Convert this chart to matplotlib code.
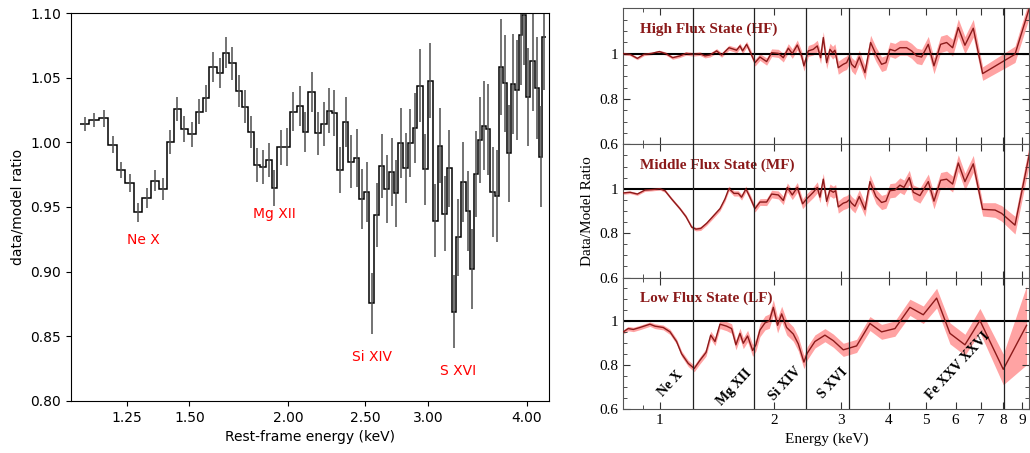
import matplotlib.pyplot as plt
import numpy as np
from matplotlib.ticker import NullLocator, MultipleLocator, FixedLocator, NullFormatter

# ---- left panel: binned data/model ratio ----
bin_edges = [1.0914, 1.1213, 1.1543, 1.1849, 1.2142, 1.2438, 1.2768, 1.3079, 1.3403, 1.3730,
             1.4041, 1.4342, 1.4624, 1.4950, 1.5275, 1.5589, 1.5891, 1.6236, 1.6522, 1.6841,
             1.7158, 1.7459, 1.7797, 1.8095, 1.8413, 1.8737, 1.9049, 1.9363, 1.9743, 2.0090,
             2.0485, 2.0846, 2.1187, 2.1603, 2.1965, 2.2351, 2.2678, 2.3050, 2.3456, 2.3798,
             2.4196, 2.4572, 2.4931, 2.5296, 2.5666, 2.6042, 2.6423, 2.6810, 2.7178, 2.7520,
             2.7923, 2.8331, 2.8696, 2.9083, 2.9542, 2.9974, 3.0413, 3.0859, 3.1274, 3.1731,
             3.2139, 3.2544, 3.2992, 3.3474, 3.3895, 3.4321, 3.4722, 3.5128, 3.5579, 3.5996,
             3.6448, 3.6875, 3.7338, 3.7774, 3.8216, 3.8629, 3.9081, 3.9503, 3.9965, 4.0432,
             4.0940, 4.1420, 4.1867, 4.2356]
ratio = [1.0142, 1.0173, 1.0185, 0.9982, 0.9786, 0.9688, 0.9459, 0.9567, 0.9704, 0.9639,
         1.0000, 1.0260, 1.0103, 1.0064, 1.0237, 1.0340, 1.0585, 1.0539, 1.0693, 1.0611,
         1.0397, 1.0276, 1.0082, 0.9825, 0.9812, 0.9863, 0.9644, 0.9961, 0.9961, 1.0237,
         1.0283, 1.0080, 1.0386, 1.0070, 1.0139, 1.0245, 1.0224, 0.9786, 1.0160, 0.9850,
         0.9876, 0.9559, 0.9619, 0.8755, 0.9438, 0.9817, 0.9637, 0.9773,
         0.9606, 0.9992, 0.9799, 0.9997, 1.0108, 1.0438, 0.9791, 1.0477, 0.9394, 0.9972,
         0.9446, 0.9799, 0.8691, 0.9266, 0.9696, 0.9472, 0.9021, 0.9755, 1.0018, 1.0129,
         1.0100, 0.9619, 0.9585, 1.0580, 1.0456, 0.9915, 1.0451, 1.0405, 1.0830, 1.0984,
         1.0348, 1.0631, 1.0417, 0.9889, 1.0817]
ratio_err = [0.0054, 0.0054, 0.0064, 0.0064, 0.0064, 0.0071, 0.0075, 0.0077, 0.0081, 0.0084,
             0.0093, 0.0093, 0.0097, 0.0097, 0.0099, 0.0103, 0.0116, 0.0116, 0.0122, 0.0126,
             0.0125, 0.0126, 0.0125, 0.0129, 0.0131, 0.0131, 0.0139, 0.0138, 0.0146, 0.0151,
             0.0155, 0.0158, 0.0155, 0.0168, 0.0170, 0.0174, 0.0178, 0.0180, 0.0193, 0.0206,
             0.0224, 0.0232, 0.0232, 0.0235, 0.0245, 0.0251, 0.0262, 0.0264,
             0.0260, 0.0271, 0.0271, 0.0264, 0.0271, 0.0280, 0.0277, 0.0292, 0.0283, 0.0290,
             0.0290, 0.0299, 0.0283, 0.0296, 0.0309, 0.0309, 0.0309, 0.0329, 0.0335, 0.0344,
             0.0352, 0.0348, 0.0352, 0.0370, 0.0374, 0.0374, 0.0384, 0.0387, 0.0387, 0.0387,
             0.0380, 0.0387, 0.0394, 0.0389, 0.0412]
left_names = ['Ne X', 'Mg XII', 'Si XIV', 'S XVI']
left_name_x = [1.311, 1.918, 2.550, 3.278]
left_name_y = [0.9245, 0.9444, 0.8343, 0.8234]

# ---- right panels: ratio curves for the three flux states ----
hf_e = [0.801, 0.834, 0.872, 0.908, 0.951, 0.996, 1.037, 1.080, 1.129, 1.171,
        1.224, 1.274, 1.314, 1.354, 1.410, 1.453, 1.519, 1.566, 1.591, 1.624,
        1.650, 1.691, 1.732, 1.779, 1.833, 1.909, 1.968, 2.049, 2.112, 2.177,
        2.230, 2.299, 2.360, 2.393, 2.457, 2.533, 2.595, 2.648, 2.691, 2.746,
        2.802, 2.848, 2.888, 2.947, 3.038, 3.100, 3.150, 3.195, 3.260, 3.347,
        3.464, 3.585, 3.703, 3.832, 3.934, 4.031, 4.155, 4.282, 4.459, 4.596,
        4.738, 4.883, 5.085, 5.263, 5.480, 5.683, 5.893, 6.099, 6.350, 6.679,
        7.070, 8.600, 9.420]
hf_r = [1.000, 0.997, 0.979, 0.997, 1.001, 1.009, 1.000, 0.982, 0.990, 1.001,
        0.997, 1.000, 0.990, 0.994, 1.012, 0.994, 1.026, 1.019, 1.015, 1.034,
        1.012, 1.041, 1.004, 0.960, 0.985, 0.965, 1.004, 1.001, 0.982, 1.024,
        1.000, 1.038, 0.990, 0.946, 1.012, 1.019, 1.034, 0.982, 1.071, 0.960,
        1.019, 1.004, 1.015, 0.938, 0.953, 0.960, 0.985, 0.953, 0.938, 0.985,
        0.916, 1.049, 0.997, 0.953, 0.960, 1.019, 1.012, 1.026, 1.026, 1.012,
        0.990, 0.985, 1.041, 0.946, 1.041, 1.049, 1.026, 1.115, 1.037, 1.112,
        0.912, 0.997, 1.210]
hf_err = [0.006, 0.006, 0.006, 0.006, 0.006, 0.006, 0.007, 0.007, 0.007, 0.008,
          0.008, 0.008, 0.009, 0.009, 0.010, 0.010, 0.011, 0.011, 0.012, 0.012,
          0.013, 0.013, 0.014, 0.015, 0.015, 0.016, 0.017, 0.018, 0.019, 0.020,
          0.021, 0.022, 0.022, 0.023, 0.024, 0.025, 0.025, 0.026, 0.026, 0.027,
          0.027, 0.028, 0.028, 0.029, 0.029, 0.030, 0.030, 0.030, 0.031, 0.031,
          0.031, 0.032, 0.032, 0.032, 0.032, 0.032, 0.033, 0.033, 0.033, 0.033,
          0.034, 0.034, 0.035, 0.035, 0.036, 0.036, 0.037, 0.038, 0.038, 0.039,
          0.030, 0.036, 0.040]

mf_e = [0.801, 0.834, 0.872, 0.913, 0.951, 1.000, 1.031, 1.073, 1.129, 1.171,
        1.212, 1.244, 1.280, 1.327, 1.382, 1.439, 1.483, 1.519, 1.566, 1.608,
        1.640, 1.684, 1.725, 1.779, 1.833, 1.909, 1.968, 2.049, 2.112, 2.164,
        2.230, 2.299, 2.374, 2.433, 2.533, 2.595, 2.637, 2.691, 2.746, 2.802,
        2.859, 2.900, 2.947, 3.038, 3.100, 3.150, 3.195, 3.260, 3.347, 3.464,
        3.571, 3.703, 3.832, 3.934, 4.031, 4.155, 4.282, 4.388, 4.532, 4.643,
        4.834, 5.085, 5.263, 5.480, 5.683, 5.893, 6.099, 6.350, 6.679, 7.070,
        7.620, 7.930, 8.600, 9.420]
mf_r = [0.981, 0.984, 0.976, 0.994, 0.996, 1.000, 0.991, 0.954, 0.910, 0.874,
        0.827, 0.818, 0.821, 0.844, 0.877, 0.910, 0.954, 1.001, 0.979, 0.979,
        0.962, 0.999, 0.962, 0.910, 0.940, 0.940, 0.976, 0.972, 0.947, 1.006,
        0.972, 1.006, 0.932, 0.954, 0.984, 1.006, 0.962, 1.043, 0.943, 0.994,
        0.984, 0.991, 0.918, 0.935, 0.940, 0.950, 0.935, 0.921, 0.965, 0.906,
        1.032, 0.965, 0.938, 0.944, 0.991, 0.994, 1.016, 1.006, 1.050, 0.984,
        0.969, 1.032, 0.944, 1.038, 1.043, 1.021, 1.116, 1.032, 1.112, 0.907,
        0.904, 0.889, 0.836, 1.170]
mf_err = [0.006, 0.006, 0.006, 0.006, 0.006, 0.006, 0.007, 0.007, 0.007, 0.008,
          0.008, 0.008, 0.009, 0.009, 0.010, 0.010, 0.011, 0.011, 0.012, 0.012,
          0.013, 0.013, 0.014, 0.015, 0.015, 0.016, 0.017, 0.018, 0.019, 0.020,
          0.021, 0.022, 0.022, 0.023, 0.024, 0.025, 0.025, 0.026, 0.026, 0.027,
          0.027, 0.028, 0.028, 0.029, 0.029, 0.030, 0.030, 0.030, 0.031, 0.031,
          0.031, 0.032, 0.032, 0.032, 0.032, 0.032, 0.033, 0.033, 0.033, 0.033,
          0.034, 0.034, 0.035, 0.035, 0.036, 0.036, 0.037, 0.038, 0.038, 0.030,
          0.033, 0.035, 0.040, 0.045]

lf_e = [0.801, 0.825, 0.851, 0.886, 0.941, 0.970, 1.020, 1.063, 1.106, 1.140,
        1.187, 1.231, 1.274, 1.322, 1.360, 1.396, 1.439, 1.498, 1.544, 1.585,
        1.624, 1.657, 1.701, 1.754, 1.789, 1.833, 1.890, 1.940, 1.988, 2.040,
        2.091, 2.155, 2.244, 2.313, 2.393, 2.442, 2.558, 2.718, 2.859, 3.038,
        3.150, 3.293, 3.571, 3.832, 4.155, 4.550, 4.933, 5.349, 5.799, 6.350,
        6.954, 8.011, 9.227]
lf_r = [0.952, 0.967, 0.963, 0.972, 0.987, 0.978, 0.972, 0.952, 0.908, 0.852,
        0.808, 0.785, 0.822, 0.858, 0.937, 0.908, 0.987, 0.978, 0.967, 0.893,
        0.945, 0.900, 0.933, 0.867, 0.893, 0.960, 0.993, 1.001, 1.064, 0.982,
        1.034, 0.972, 0.942, 0.897, 0.814, 0.855, 0.908, 0.937, 0.912, 0.870,
        0.878, 0.888, 0.990, 0.952, 0.967, 1.064, 1.030, 1.106, 0.945, 0.893,
        1.004, 0.781, 0.982]
lf_err = [0.010, 0.010, 0.010, 0.010, 0.010, 0.011, 0.011, 0.012, 0.012, 0.013,
          0.014, 0.015, 0.016, 0.017, 0.018, 0.019, 0.020, 0.021, 0.022, 0.023,
          0.024, 0.025, 0.026, 0.027, 0.028, 0.030, 0.032, 0.033, 0.035, 0.035,
          0.035, 0.034, 0.033, 0.032, 0.030, 0.030, 0.030, 0.030, 0.030, 0.030,
          0.030, 0.030, 0.032, 0.034, 0.035, 0.037, 0.040, 0.045, 0.048, 0.048,
          0.055, 0.070, 0.180]

state_titles = ['High Flux State (HF)', 'Middle Flux State (MF)', 'Low Flux State (LF)']
line_energies = [1.224, 1.771, 2.423, 3.150, 8.058]
line_names = ['Ne X', 'Mg XII', 'Si XIV', 'S XVI', 'Fe XXV XXVI']
line_label_x = [1.069, 1.566, 2.133, 2.845, 6.087]
line_label_y = [0.714, 0.700, 0.714, 0.716, 0.796]

SERIF = 'Liberation Serif'
DARKRED = '#8b1a1a'

fig = plt.figure(figsize=(10.3, 4.53), dpi=100)

# left panel
ax = fig.add_axes([0.0689, 0.1148, 0.4641, 0.8565])
edges = np.array(bin_edges)
centers = 0.5 * (edges[:-1] + edges[1:])
ax.stairs(ratio, edges, baseline=None, color='k', lw=1.1)
ax.errorbar(centers, ratio, yerr=ratio_err, fmt='none', ecolor='0.3', elinewidth=1.1)
ax.set_xscale('log')
ax.set_xlim(1.063, 4.267)
ax.set_ylim(0.80, 1.10)
ax.set_xticks([1.25, 1.5, 2.0, 2.5, 3.0, 4.0])
ax.set_xticklabels(['1.25', '1.50', '2.00', '2.50', '3.00', '4.00'])
ax.xaxis.set_minor_locator(NullLocator())
ax.set_yticks(np.arange(0.80, 1.101, 0.05))
ax.set_yticklabels([f'{v:.2f}' for v in np.arange(0.80, 1.101, 0.05)])
ax.tick_params(labelsize=10)
ax.set_xlabel('Rest-frame energy (keV)', fontsize=10)
ax.set_ylabel('data/model ratio', fontsize=10)
for name, x, y in zip(left_names, left_name_x, left_name_y):
    ax.text(x, y, name, color='red', fontsize=10, ha='center', va='center')

# right panels
boxes = [[0.6051, 0.6815, 0.3944, 0.3002],
         [0.6051, 0.3874, 0.3944, 0.2940],
         [0.6051, 0.0971, 0.3944, 0.2903]]
curves = [(hf_e, hf_r, hf_err), (mf_e, mf_r, mf_err), (lf_e, lf_r, lf_err)]
axes_r = []
for i, (box, (e, r, err), title) in enumerate(zip(boxes, curves, state_titles)):
    a = fig.add_axes(box)
    e = np.array(e)
    r = np.array(r)
    err = np.array(err)
    a.fill_between(e, r - err, r + err, color='#ffa3a3', lw=0, zorder=1)
    a.plot(e, r, color=DARKRED, lw=1.0, zorder=3)
    a.axhline(1.0, color='k', lw=1.5, zorder=2)
    for le in line_energies:
        a.axvline(le, color='#222222', lw=0.9, zorder=4)
    a.set_xscale('log')
    a.set_xlim(0.8006, 9.39)
    a.set_ylim(0.6, 1.2)
    a.xaxis.set_major_locator(FixedLocator([1, 2, 3, 4, 5, 6, 7, 8, 9]))
    a.xaxis.set_minor_locator(FixedLocator([0.9]))
    a.xaxis.set_minor_formatter(NullFormatter())
    a.set_yticks([0.6, 0.8, 1.0])
    a.set_yticklabels(['0.6', '0.8', '1'])
    a.yaxis.set_minor_locator(MultipleLocator(0.05))
    a.tick_params(which='both', direction='in', top=True, right=True,
                  labelsize=11, labelfontfamily=SERIF, colors='#333333',
                  labelcolor='k')
    a.tick_params(which='major', length=5)
    a.tick_params(which='minor', length=3)
    for s in a.spines.values():
        s.set_color('#555555')
    if i < 2:
        a.set_xticklabels([])
    else:
        a.set_xticklabels([str(v) for v in range(1, 10)])
    a.text(0.041, 0.843, title, transform=a.transAxes, color=DARKRED,
           fontsize=11, fontweight='bold', family=SERIF, ha='left', va='center')
    axes_r.append(a)

axes_r[1].set_ylabel('Data/Model Ratio', fontsize=11, family=SERIF)
axes_r[2].set_xlabel('Energy (keV)', fontsize=11, family=SERIF)
for name, x, y in zip(line_names, line_label_x, line_label_y):
    axes_r[2].text(x, y, name, fontsize=10, fontweight='bold', family=SERIF,
                   rotation=47, ha='center', va='center', zorder=5)

fig.savefig('out.png', dpi=100)
